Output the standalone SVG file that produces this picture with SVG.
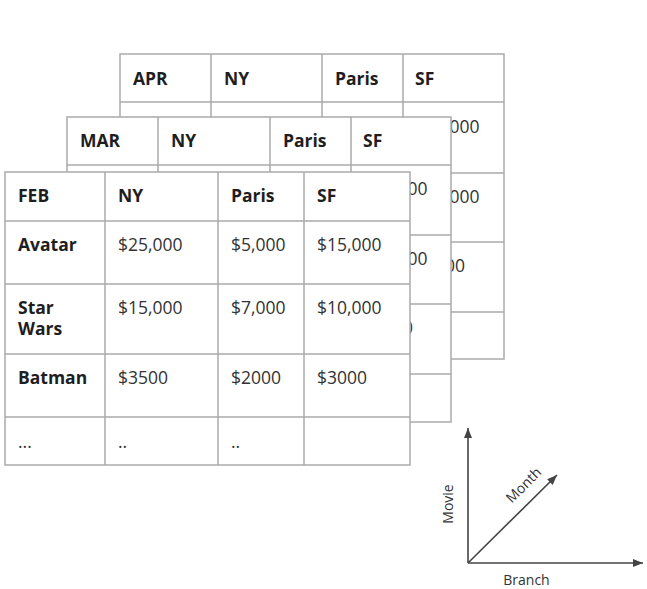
<svg xmlns="http://www.w3.org/2000/svg" width="647" height="589" viewBox="0 0 647 589">
<style>
.cell{fill:#fff;stroke:#ababab;stroke-width:1.5}
.ln{stroke:#ababab;stroke-width:1.5;fill:none}
.h{font-family:"Open Sans","Liberation Sans",sans-serif;font-size:17.5px;font-weight:bold;fill:#1e1e1e}
.v{font-family:"Open Sans","Liberation Sans",sans-serif;font-size:17.5px;fill:#333}
.ax{stroke:#444;stroke-width:1.6;fill:none}
.al{font-family:"Open Sans","Liberation Sans",sans-serif;font-size:14px;fill:#333}
</style>
<defs>
<marker id="arr" markerUnits="userSpaceOnUse" markerWidth="10" markerHeight="8" refX="10" refY="4" orient="auto">
<path d="M0,0 L10,4 L0,8 z" fill="#444"/>
</marker>
</defs>
<rect width="647" height="589" fill="#fff"/>

<g id="table-apr">
<rect class="cell" x="120" y="54" width="384" height="305"/>
<path class="ln" d="M211,54V359M322,54V359M403,54V359M120,102H504M120,173H504M120,242H504M120,312H504"/>
<text class="h" x="133" y="85">APR</text>
<text class="h" x="224" y="85">NY</text>
<text class="h" x="335" y="85">Paris</text>
<text class="h" x="415" y="85">SF</text>
<text class="v" x="449.5" y="133">000</text>
<text class="v" x="449.5" y="203">000</text>
<text class="v" x="445" y="272">00</text>
</g>

<g id="table-mar">
<rect class="cell" x="67" y="117" width="384" height="305"/>
<path class="ln" d="M158,117V422M270,117V422M351,117V422M67,165H451M67,235H451M67,304H451M67,374H451"/>
<text class="h" x="80" y="147">MAR</text>
<text class="h" x="171" y="147">NY</text>
<text class="h" x="283" y="147">Paris</text>
<text class="h" x="363" y="147">SF</text>
<text class="v" x="397.5" y="195">000</text>
<text class="v" x="397.5" y="265">000</text>
<text class="v" x="403" y="334">0</text>
</g>

<g id="table-feb">
<rect class="cell" x="5" y="172" width="405" height="293"/>
<path class="ln" d="M105,172V465M218,172V465M304,172V465M5,221H410M5,284H410M5,354H410M5,417H410"/>
<text class="h" x="18" y="202">FEB</text>
<text class="h" x="118" y="202">NY</text>
<text class="h" x="231" y="202">Paris</text>
<text class="h" x="317" y="202">SF</text>
<text class="h" x="18" y="251">Avatar</text>
<text class="v" x="118" y="251">$25,000</text>
<text class="v" x="231" y="251">$5,000</text>
<text class="v" x="317" y="251">$15,000</text>
<text class="h" x="18" y="314">Star<tspan x="18" dy="21">Wars</tspan></text>
<text class="v" x="118" y="314">$15,000</text>
<text class="v" x="231" y="314">$7,000</text>
<text class="v" x="317" y="314">$10,000</text>
<text class="h" x="18" y="384">Batman</text>
<text class="v" x="118" y="384">$3500</text>
<text class="v" x="231" y="384">$2000</text>
<text class="v" x="317" y="384">$3000</text>
<text class="v" x="18" y="448">...</text>
<text class="v" x="118" y="448">..</text>
<text class="v" x="231" y="448">..</text>
</g>

<g id="connectors">
<line class="ax" x1="468" y1="563" x2="468" y2="428" marker-end="url(#arr)"/>
<line class="ax" x1="468" y1="563" x2="643" y2="563" marker-end="url(#arr)"/>
<line class="ax" x1="468" y1="563" x2="557" y2="475" marker-end="url(#arr)"/>
</g>

<g id="axis-labels">
<text class="al" transform="translate(448,504) rotate(-90)" y="5" text-anchor="middle">Movie</text>
<text class="al" transform="translate(523.5,485) rotate(-45)" y="5" text-anchor="middle">Month</text>
<text class="al" x="526.5" y="585" text-anchor="middle">Branch</text>
</g>
</svg>
